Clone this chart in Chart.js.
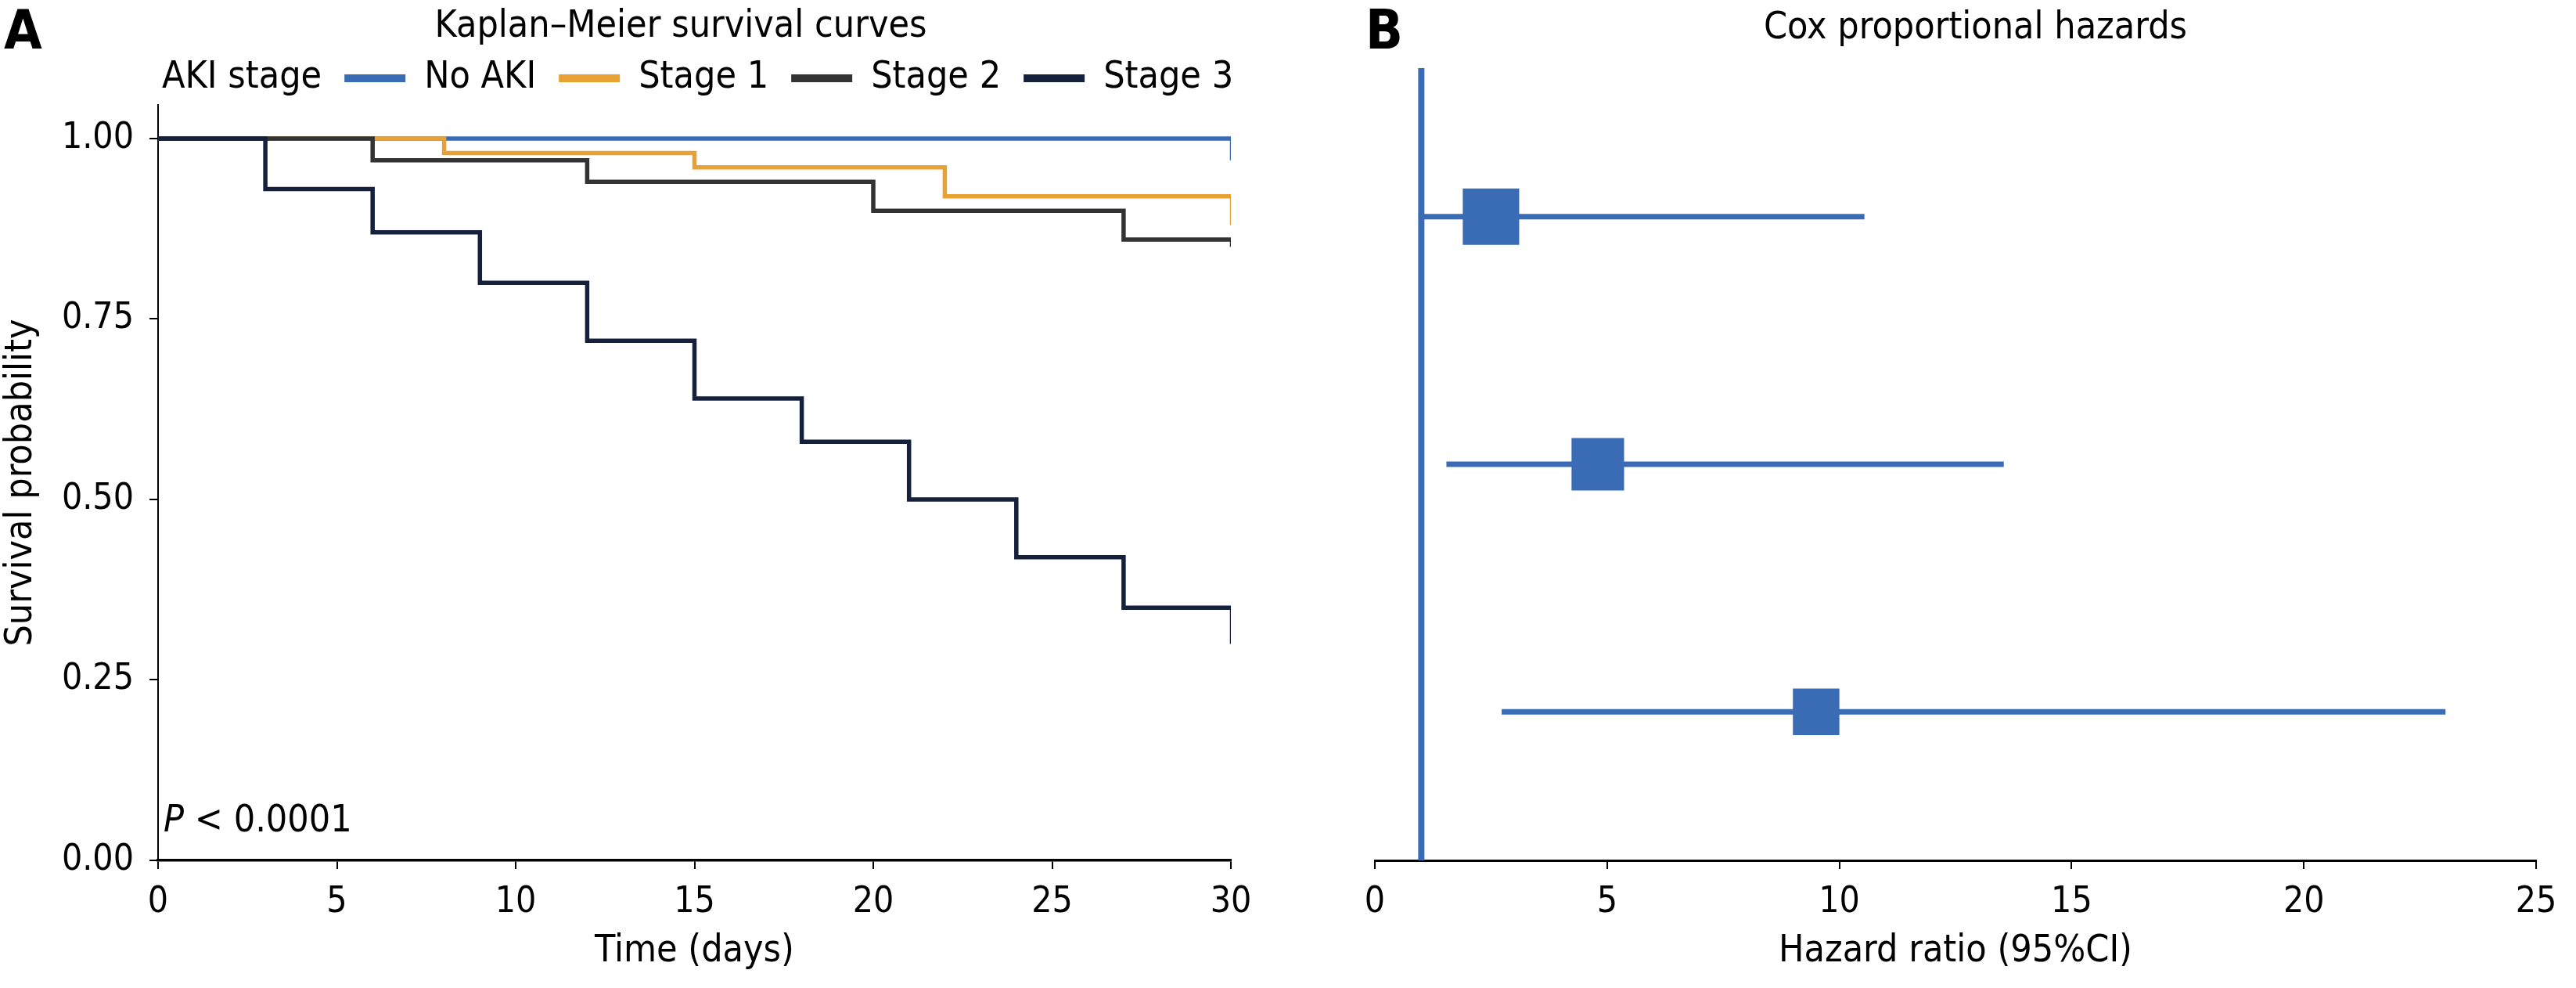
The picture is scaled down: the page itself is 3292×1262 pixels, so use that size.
<!DOCTYPE html>
<html>
<head>
<meta charset="utf-8">
<script src="https://cdn.jsdelivr.net/npm/chart.js@4.4.1/dist/chart.umd.min.js"></script>
<style>
    html, body { margin: 0; padding: 0; background: #fff; overflow: hidden; }
    #wrap { position: relative; width: 3292px; height: 1262px; font-family: 'DejaVu Sans Condensed', 'Liberation Sans', sans-serif; color: #000; }
    canvas { position: absolute; top: 0; }
    #kmChart { left: 0; }
    #coxChart { left: 1650px; }
    .panel { position: absolute; top: 3px; font-size: 70px; font-weight: bold; line-height: 1; }
    #pval { position: absolute; left: 209px; top: 1021px; font-size: 48px; line-height: 1; white-space: nowrap; }
</style>
</head>
<body>
<div id="wrap">
    <canvas id="kmChart" width="1700" height="1262"></canvas>
    <canvas id="coxChart" width="1642" height="1262"></canvas>
    <div class="panel" style="left:5px">A</div>
    <div class="panel" style="left:1745px">B</div>
    <div id="pval"><i>P</i> &lt; 0.0001</div>
</div>
<script>
var FONT = "'DejaVu Sans Condensed', 'Liberation Sans', sans-serif";

// Panel A: Kaplan-Meier curves (day, survival)
var groups = ['No AKI', 'Stage 1', 'Stage 2', 'Stage 3'];
var daysNoAki = [0, 30, 30];
var survNoAki = [1.00, 1.00, 0.97];
var daysStage1 = [0, 8, 15, 22, 30, 30];
var survStage1 = [1.00, 0.98, 0.96, 0.92, 0.92, 0.88];
var daysStage2 = [0, 6, 12, 20, 27, 30, 30];
var survStage2 = [1.00, 0.97, 0.94, 0.90, 0.86, 0.86, 0.85];
var daysStage3 = [0, 3, 6, 9, 12, 15, 18, 21, 24, 27, 30, 30];
var survStage3 = [1.00, 0.93, 0.87, 0.80, 0.72, 0.64, 0.58, 0.50, 0.42, 0.35, 0.35, 0.30];
var timeTicks = [0, 5, 10, 15, 20, 25, 30];
var survTicks = [0, 0.25, 0.50, 0.75, 1.00];

// Panel B: Cox model
var coxGroups = ['Stage 1', 'Stage 2', 'Stage 3'];
var hazardRatio = [2.5, 4.8, 9.5];
var ciLow = [0.95, 1.54, 2.73];
var ciHigh = [10.54, 13.54, 23.05];
var hrTicks = [0, 5, 10, 15, 20, 25];
var refHR = 1;

var kmColors = ['#3a6cb5', '#e8a133', '#333333', '#14203c'];
var coxBlue = '#3a6cb5';
var kmSeries = [[daysNoAki, survNoAki], [daysStage1, survStage1], [daysStage2, survStage2], [daysStage3, survStage3]];

function toPoints(xs, ys) {
    return xs.map(function (x, i) { return { x: x, y: ys[i] }; });
}

function fixedTicks(values) {
    return function (scale) {
        scale.ticks = values.map(function (v) { return { value: v }; });
    };
}

// empty axis that only reserves room (keeps titles/legend where they sit in the figure)
function spacerAxis(width) {
    return {
        axis: 'y',
        position: 'right',
        display: true,
        afterFit: function (s) { s.width = width; },
        grid: { display: false },
        border: { display: false },
        ticks: { display: false }
    };
}

var textFont = { family: FONT, size: 48, weight: 'normal' };
var tickFont = { family: FONT, size: 46, weight: 'normal' };
var tickGrid = { drawOnChartArea: false, drawTicks: true, tickLength: 11, tickWidth: 2, lineWidth: 2, tickColor: '#000', color: '#000' };

// Kaplan-Meier chart
var kmDatasets = groups.map(function (g, k) {
    var pts = toPoints(kmSeries[k][0], kmSeries[k][1]);
    var last = pts.length - 1;
    return {
        label: g,
        data: pts,
        yAxisID: 'y',
        borderColor: kmColors[k],
        backgroundColor: kmColors[k],
        borderWidth: 5.5,
        stepped: 'before',
        pointRadius: 0,
        fill: false,
        order: 4 - k,
        segment: {
            borderWidth: function (ctx) { return ctx.p1DataIndex === last ? 2.5 : 5.5; }
        }
    };
});

new Chart(document.getElementById('kmChart'), {
    type: 'line',
    data: { datasets: kmDatasets },
    options: {
        responsive: false,
        animation: false,
        events: [],
        layout: { padding: { left: 76, right: 36, top: 0, bottom: 0 } },
        plugins: {
            title: {
                display: true,
                text: 'Kaplan\u2013Meier survival curves',
                color: '#000',
                font: { family: FONT, size: 48, weight: 'normal', lineHeight: 0.5 },
                padding: { top: 23, bottom: 0 }
            },
            legend: {
                display: true,
                position: 'top',
                align: 'start',
                onClick: function () {},
                labels: {
                    color: '#000',
                    font: textFont,
                    boxWidth: 78,
                    boxHeight: 10,
                    padding: 29,
                    generateLabels: function (chart) {
                        var items = [{ text: 'AKI stage', fillStyle: 'rgba(0,0,0,0)', strokeStyle: 'rgba(0,0,0,0)', lineWidth: 0, hidden: false }];
                        chart.data.datasets.forEach(function (ds, i) {
                            items.push({ text: ds.label, fillStyle: ds.borderColor, strokeStyle: ds.borderColor, lineWidth: 0, hidden: false, datasetIndex: i });
                        });
                        return items;
                    }
                }
            },
            tooltip: { enabled: false }
        },
        scales: {
            x: {
                type: 'linear',
                min: 0,
                max: 30,
                afterBuildTicks: fixedTicks(timeTicks),
                afterFit: function (s) { s.height = 163; },
                border: { display: true, color: '#000', width: 3.5 },
                grid: tickGrid,
                ticks: { color: '#000', padding: 15.5, font: tickFont, maxRotation: 0 },
                title: { display: true, text: 'Time (days)', color: '#000', font: textFont, padding: { top: 0, bottom: 18 } }
            },
            y: {
                type: 'linear',
                min: 0,
                max: 1.0466,
                afterBuildTicks: fixedTicks(survTicks),
                afterFit: function (s) { s.width = 126; },
                border: { display: true, color: '#000', width: 2 },
                grid: tickGrid,
                ticks: {
                    color: '#000',
                    padding: 20,
                    font: tickFont,
                    callback: function (v) { return Number(v).toFixed(2); }
                },
                title: { display: true, text: 'Survival probability', color: '#000', font: textFont, padding: { top: -76.8, bottom: 0 } }
            },
            padRight: spacerAxis(91)
        }
    }
});

// Cox proportional hazards chart
var rowMin = 0.4, rowMax = 3.6;
var rowPos = coxGroups.map(function (g, i) { return i + 1; });

var coxDatasets = [{
    label: 'Hazard ratio',
    data: toPoints(hazardRatio, rowPos),
    pointStyle: 'rect',
    pointRadius: [51, 47.5, 42],
    backgroundColor: coxBlue,
    borderColor: coxBlue,
    borderWidth: 0,
    order: 0
}];
coxGroups.forEach(function (g, i) {
    coxDatasets.push({
        label: g + ' 95%CI',
        data: toPoints([ciLow[i], ciHigh[i]], [rowPos[i], rowPos[i]]),
        showLine: true,
        borderColor: coxBlue,
        borderWidth: 7,
        pointRadius: 0,
        order: 1
    });
});
coxDatasets.push({
    label: 'HR = 1',
    data: toPoints([refHR, refHR], [rowMin, rowMax]),
    showLine: true,
    borderColor: coxBlue,
    borderWidth: 8,
    pointRadius: 0,
    order: 2
});
coxDatasets.forEach(function (ds) { ds.yAxisID = 'y'; });

new Chart(document.getElementById('coxChart'), {
    type: 'scatter',
    data: { datasets: coxDatasets },
    options: {
        responsive: false,
        animation: false,
        events: [],
        layout: { padding: { left: 107, right: 0, top: 0, bottom: 0 } },
        plugins: {
            legend: { display: false },
            tooltip: { enabled: false },
            title: {
                display: true,
                text: 'Cox proportional hazards',
                color: '#000',
                font: { family: FONT, size: 48, weight: 'normal', lineHeight: 1.2 },
                padding: { top: 8, bottom: 21.4 }
            }
        },
        scales: {
            x: {
                type: 'linear',
                min: 0,
                max: 25,
                afterBuildTicks: fixedTicks(hrTicks),
                afterFit: function (s) { s.height = 163; },
                border: { display: true, color: '#000', width: 3 },
                grid: tickGrid,
                ticks: { color: '#000', padding: 15.5, font: tickFont, maxRotation: 0 },
                title: { display: true, text: 'Hazard ratio (95%CI)', color: '#000', font: textFont, padding: { top: 0, bottom: 18 } }
            },
            y: {
                type: 'linear',
                display: false,
                min: rowMin,
                max: rowMax,
                reverse: true
            },
            padRight: spacerAxis(37)
        }
    }
});
</script>
</body>
</html>
